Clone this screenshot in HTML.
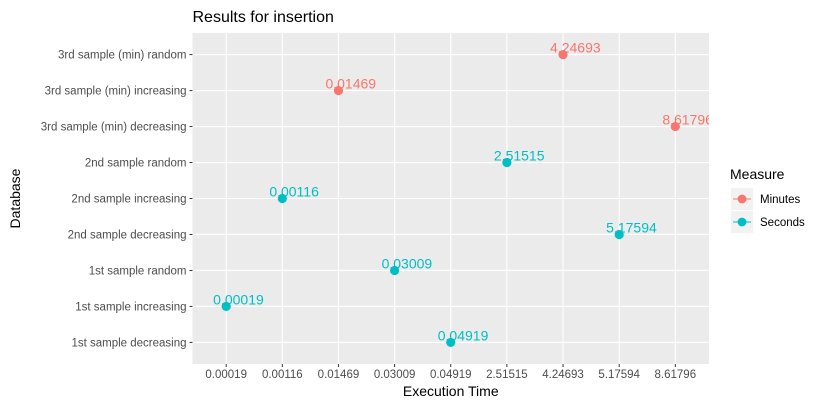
<!DOCTYPE html>
<html><head><meta charset="utf-8"><style>
body{margin:0;background:#fff;font-family:"Liberation Sans",Arial,sans-serif}
svg text{font-family:"Liberation Sans",Arial,sans-serif}
</style></head><body>
<svg id="c" width="825" height="410" xmlns="http://www.w3.org/2000/svg"></svg>
<script>
const xCats=["0.00019","0.00116","0.01469","0.03009","0.04919","2.51515","4.24693","5.17594","8.61796"];
const yCats=["1st sample decreasing","1st sample increasing","1st sample random","2nd sample decreasing","2nd sample increasing","2nd sample random","3rd sample (min) decreasing","3rd sample (min) increasing","3rd sample (min) random"];
const pointX=["0.04919","0.00019","0.03009","5.17594","0.00116","2.51515","8.61796","0.01469","4.24693"];
const pointMeasure=["Seconds","Seconds","Seconds","Seconds","Seconds","Seconds","Minutes","Minutes","Minutes"];
const colors={Minutes:"#F8766D",Seconds:"#00BFC4"};
const L=192.5,R=709,T=33,B=364;
const NS="http://www.w3.org/2000/svg",svg=document.getElementById('c');
function el(t,a,p){const e=document.createElementNS(NS,t);for(const k in a)e.setAttribute(k,a[k]);(p||svg).appendChild(e);return e;}
const xs=(R-L)/(xCats.length-1+1.2), ys=(B-T)/(yCats.length-1+1.2);
function X(c){return L+(xCats.indexOf(c)+0.6)*xs;}
function Y(i){return B-(i+0.6)*ys;}
let e=el('rect',{x:L,y:T,width:R-L,height:B-T,fill:'#EBEBEB'});

const defs=el('defs',{});const cp=el('clipPath',{id:'clip'},defs);el('rect',{x:L,y:T,width:R-L,height:B-T},cp);
xCats.forEach(c=>{const x=X(c);
 e=el('line',{x1:x,x2:x,y1:T,y2:B,stroke:'#fff','stroke-width':1.1});
 
 el('line',{x1:x,x2:x,y1:B,y2:B+3,stroke:'#333'});
 e=el('text',{x:x,y:B+14,'text-anchor':'middle','font-size':11.5,fill:'#4D4D4D'});e.textContent=c;
 });
yCats.forEach((c,i)=>{const y=Y(i);
 e=el('line',{x1:L,x2:R,y1:y,y2:y,stroke:'#fff','stroke-width':1.1});
 
 el('line',{x1:L-3,x2:L,y1:y,y2:y,stroke:'#333'});
 e=el('text',{x:L-6,y:y+4,'text-anchor':'end','font-size':11.5,fill:'#4D4D4D'});e.textContent=c;
 });
const g=el('g',{'clip-path':'url(#clip)'});
pointX.forEach((v,i)=>{const x=X(v),y=Y(i),col=colors[pointMeasure[i]];
 e=el('circle',{cx:x,cy:y,r:4.6,fill:col},g);
 
 e=el('text',{x:x-13,y:y-2,'text-anchor':'start','font-size':14,fill:col},g);e.textContent=v;
 });
e=el('text',{x:L,y:22,'font-size':16,fill:'#000'});e.textContent='Results for insertion';

e=el('text',{x:(L+R)/2,y:396,'text-anchor':'middle','font-size':14,fill:'#000'});e.textContent='Execution Time';

e=el('text',{x:20,y:(T+B)/2,'text-anchor':'middle','font-size':14,fill:'#000',transform:`rotate(-90 20 ${(T+B)/2})`});e.textContent='Database';

e=el('text',{x:730,y:179,'font-size':14,fill:'#000'});e.textContent='Measure';

["Minutes","Seconds"].forEach((m,i)=>{const y=199+i*23;
 const lg=el('g',{});
 el('rect',{x:731,y:y-11,width:22,height:22,fill:'#F2F2F2'},lg);
 el('line',{x1:733,x2:751,y1:y,y2:y,stroke:colors[m],'stroke-width':1},lg);
 el('circle',{cx:742,cy:y,r:4.4,fill:colors[m]},lg);
 const t=el('text',{x:760,y:y+4,'font-size':11.5,fill:'#000'},lg);t.textContent=m;});
</script>
</body></html>
